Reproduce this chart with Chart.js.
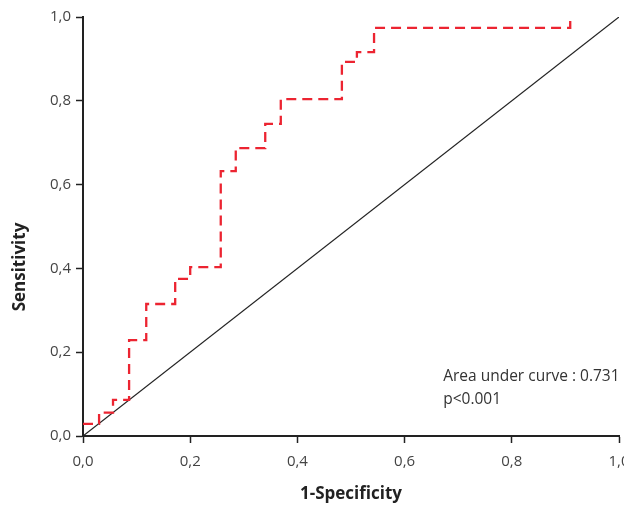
<!DOCTYPE html>
<html>
<head>
<meta charset="utf-8">
<script src="https://cdn.jsdelivr.net/npm/chart.js@4/dist/chart.umd.min.js"></script>
<style>
  body { margin: 0; background: #fff; }
</style>
</head>
<body>
<canvas id="roc" width="624" height="506"></canvas>
<script>
// values (1-specificity, sensitivity)
var fpr = [0, 0.030, 0.056, 0.086, 0.118, 0.172, 0.200, 0.257, 0.285, 0.340, 0.369, 0.483, 0.511, 0.543, 0.909];
var tpr = [0.029, 0.056, 0.086, 0.229, 0.315, 0.375, 0.403, 0.632, 0.687, 0.745, 0.804, 0.893, 0.916, 0.974, 1.0];
var refX = [0, 1];
var refY = [0, 1];
var tickValues = [0, 0.2, 0.4, 0.6, 0.8, 1.0];

var xTitle = '1-Specificity';
var yTitle = 'Sensitivity';
var notes = ['Area under curve : 0.731', 'p<0.001'];

function toPoints(xs, ys) {
    var pts = [];
    for (let i = 0; i < xs.length; i++) {
        pts.push({x: xs[i], y: ys[i]});
    }
    return pts;
}

function fmt(v) {
    return v.toFixed(1).replace('.', ',');
}

var extraText = {
    id: 'extraText',
    afterDraw: function(chart) {
        var ctx = chart.ctx;
        ctx.save();
        // y axis title, sits a bit below the middle in the original
        ctx.translate(20, 267);
        ctx.rotate(-Math.PI / 2);
        ctx.fillStyle = '#222';
        ctx.font = 'bold 17px "Open Sans"';
        ctx.textAlign = 'center';
        ctx.textBaseline = 'middle';
        ctx.fillText(yTitle, 0, 0);
        ctx.restore();

        ctx.save();
        ctx.fillStyle = '#333';
        ctx.font = '15.5px "Open Sans"';
        ctx.textAlign = 'left';
        ctx.textBaseline = 'middle';
        var x = chart.scales.x.getPixelForValue(0.672);
        ctx.fillText(notes[0], x, chart.scales.y.getPixelForValue(0.141));
        ctx.fillText(notes[1], x, chart.scales.y.getPixelForValue(0.086));
        ctx.restore();
    }
};

var ctx = document.getElementById('roc').getContext('2d');

var chart = new Chart(ctx, {
    type: 'line',
    data: {
        datasets: [{
            label: 'ROC',
            data: toPoints(fpr, tpr),
            borderColor: '#ec2431',
            borderWidth: 2.3,
            borderDash: [10, 6],
            stepped: 'before',
            pointRadius: 0,
            fill: false
        }, {
            label: 'Reference',
            data: toPoints(refX, refY),
            borderColor: '#222',
            borderWidth: 1.2,
            pointRadius: 0,
            fill: false
        }]
    },
    options: {
        responsive: false,
        animation: false,
        layout: {
            padding: {top: 17, right: 5, left: 0, bottom: 0}
        },
        plugins: {
            legend: {display: false},
            tooltip: {enabled: false}
        },
        scales: {
            x: {
                type: 'linear',
                min: 0,
                max: 1,
                afterFit: function(scale) {
                    scale.height = 70;
                    scale.paddingLeft = 0;
                    scale.paddingRight = 0;
                },
                afterBuildTicks: function(scale) {
                    scale.ticks = tickValues.map(function(v) { return {value: v}; });
                },
                grid: {
                    drawOnChartArea: false,
                    drawTicks: true,
                    tickLength: 7,
                    tickColor: '#222',
                    tickWidth: 1.5
                },
                border: {display: true, color: '#222', width: 2},
                ticks: {
                    color: '#444',
                    font: {family: '"Open Sans"', size: 15},
                    padding: 10,
                    maxRotation: 0,
                    callback: function(v) { return fmt(v); }
                },
                title: {
                    display: true,
                    text: xTitle,
                    color: '#222',
                    font: {family: '"Open Sans"', size: 17, weight: 'bold'},
                    padding: {top: 4, bottom: 2}
                }
            },
            y: {
                type: 'linear',
                min: 0,
                max: 1,
                afterFit: function(scale) {
                    scale.width = 83;
                    scale.paddingTop = 0;
                    scale.paddingBottom = 0;
                },
                afterBuildTicks: function(scale) {
                    scale.ticks = tickValues.map(function(v) { return {value: v}; });
                },
                grid: {
                    drawOnChartArea: false,
                    drawTicks: true,
                    tickLength: 7,
                    tickColor: '#222',
                    tickWidth: 1.5
                },
                border: {display: true, color: '#222', width: 2},
                ticks: {
                    color: '#444',
                    font: {family: '"Open Sans"', size: 15},
                    padding: 5,
                    callback: function(v) { return fmt(v); }
                }
            }
        }
    },
    plugins: [extraText]
});
</script>
</body>
</html>
